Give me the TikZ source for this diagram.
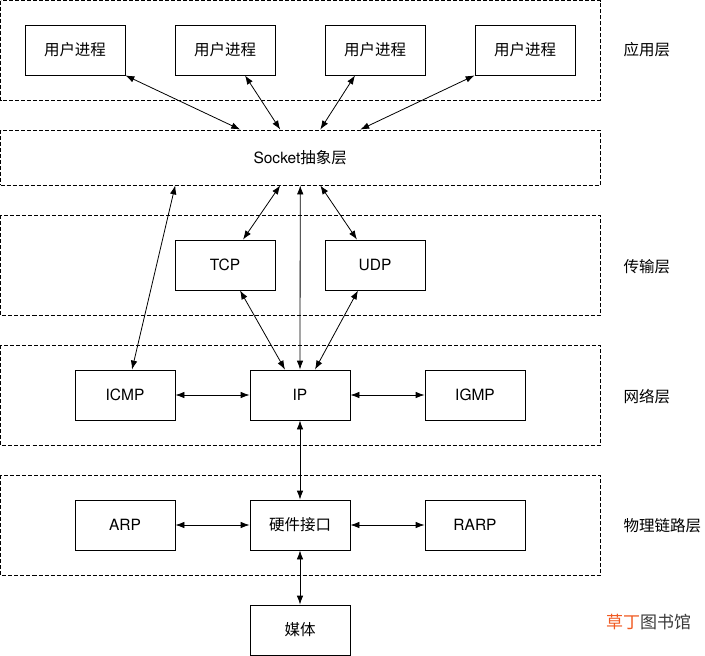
\documentclass[tikz,border=0pt]{standalone}
\usepackage{fontspec}
\setmainfont{TeX Gyre Heros}
\newfontfamily\cjk{Noto Sans CJK SC}
\usetikzlibrary{arrows.meta,calc}

\begin{document}
\begin{tikzpicture}[x=1pt, y=-1pt, >={Latex[length=9pt,width=6.5pt]},
    box/.style={draw, line width=0.8pt, minimum width=100pt, minimum height=50pt, inner sep=0pt, font=\fontsize{15.5}{18}\selectfont},
    layer/.style={draw, line width=0.8pt, dash pattern=on 4pt off 2pt},
    side/.style={anchor=west, font=\fontsize{15.5}{18}\selectfont\cjk},
    link/.style={<->, line width=0.8pt}]
    \useasboundingbox (0,0) rectangle (705,656);

    \draw[layer] (0.5,0.5) rectangle (600,100);
    \node[layer, minimum width=599.5pt, minimum height=55pt, inner sep=0pt, font=\fontsize{15.5}{18}\selectfont] (sock) at (300.25,157.5) {Socket{\cjk 抽象层}};
    \draw[layer] (0.5,215) rectangle (600,315);
    \draw[layer] (0.5,345) rectangle (600,445);
    \draw[layer] (0.5,475) rectangle (600,575);

    \node[box] (p1) at (75,50) {\cjk 用户进程};
    \node[box] (p2) at (225,50) {\cjk 用户进程};
    \node[box] (p3) at (375,50) {\cjk 用户进程};
    \node[box] (p4) at (525,50) {\cjk 用户进程};

    \node[box] (tcp) at (225,265) {TCP};
    \node[box] (udp) at (375,265) {UDP};

    \node[box] (icmp) at (125,395) {ICMP};
    \node[box] (ip) at (300,395) {IP};
    \node[box] (igmp) at (475,395) {IGMP};

    \node[box] (arp) at (125,525) {ARP};
    \node[box] (hw) at (300,525) {\cjk 硬件接口};
    \node[box] (rarp) at (475,525) {RARP};

    \node[box] (media) at (300,630) {\cjk 媒体};

    \node[side] (lapp) at (620,50) {应用层};
    \node[side] (ltrans) at (620,267) {传输层};
    \node[side] (lnet) at (620,397) {网络层};
    \node[side] (lphy) at (620,526) {物理链路层};
    \node[anchor=west, font=\fontsize{17}{20}\selectfont\cjk, inner sep=0pt] (mark) at (606,622) {\textcolor[HTML]{F05A22}{草丁}\textcolor[HTML]{3A3A3A}{图书馆}};

    \draw[link] (p1.south east) -- ($(sock.north)+(-60,0)$);
    \draw[link] ($(p2.south)+(20,0)$) -- ($(sock.north)+(-20,0)$);
    \draw[link] ($(p3.south)+(-20,0)$) -- ($(sock.north)+(20,0)$);
    \draw[link] (p4.south west) -- ($(sock.north)+(60,0)$);

    \draw[link] ($(sock.south)+(-125,0)$) -- ($(icmp.north)+(7,0)$);
    \draw[link] ($(sock.south)+(-20,0)$) -- ($(tcp.north)+(18,0)$);
    \draw[link] (sock.south) -- (ip.north);
    \draw[link] ($(sock.south)+(20,0)$) -- ($(udp.north)+(-18,0)$);

    \draw[link] ($(tcp.south)+(15,0)$) -- ($(ip.north)+(-15,0)$);
    \draw[link] ($(udp.south)+(-17,0)$) -- ($(ip.north)+(15,0)$);

    \draw[link] (icmp.east) -- (ip.west);
    \draw[link] (ip.east) -- (igmp.west);
    \draw[link] (ip.south) -- (hw.north);

    \draw[link] (arp.east) -- (hw.west);
    \draw[link] (hw.east) -- (rarp.west);
    \draw[link] (hw.south) -- (media.north);
\end{tikzpicture}
\end{document}
